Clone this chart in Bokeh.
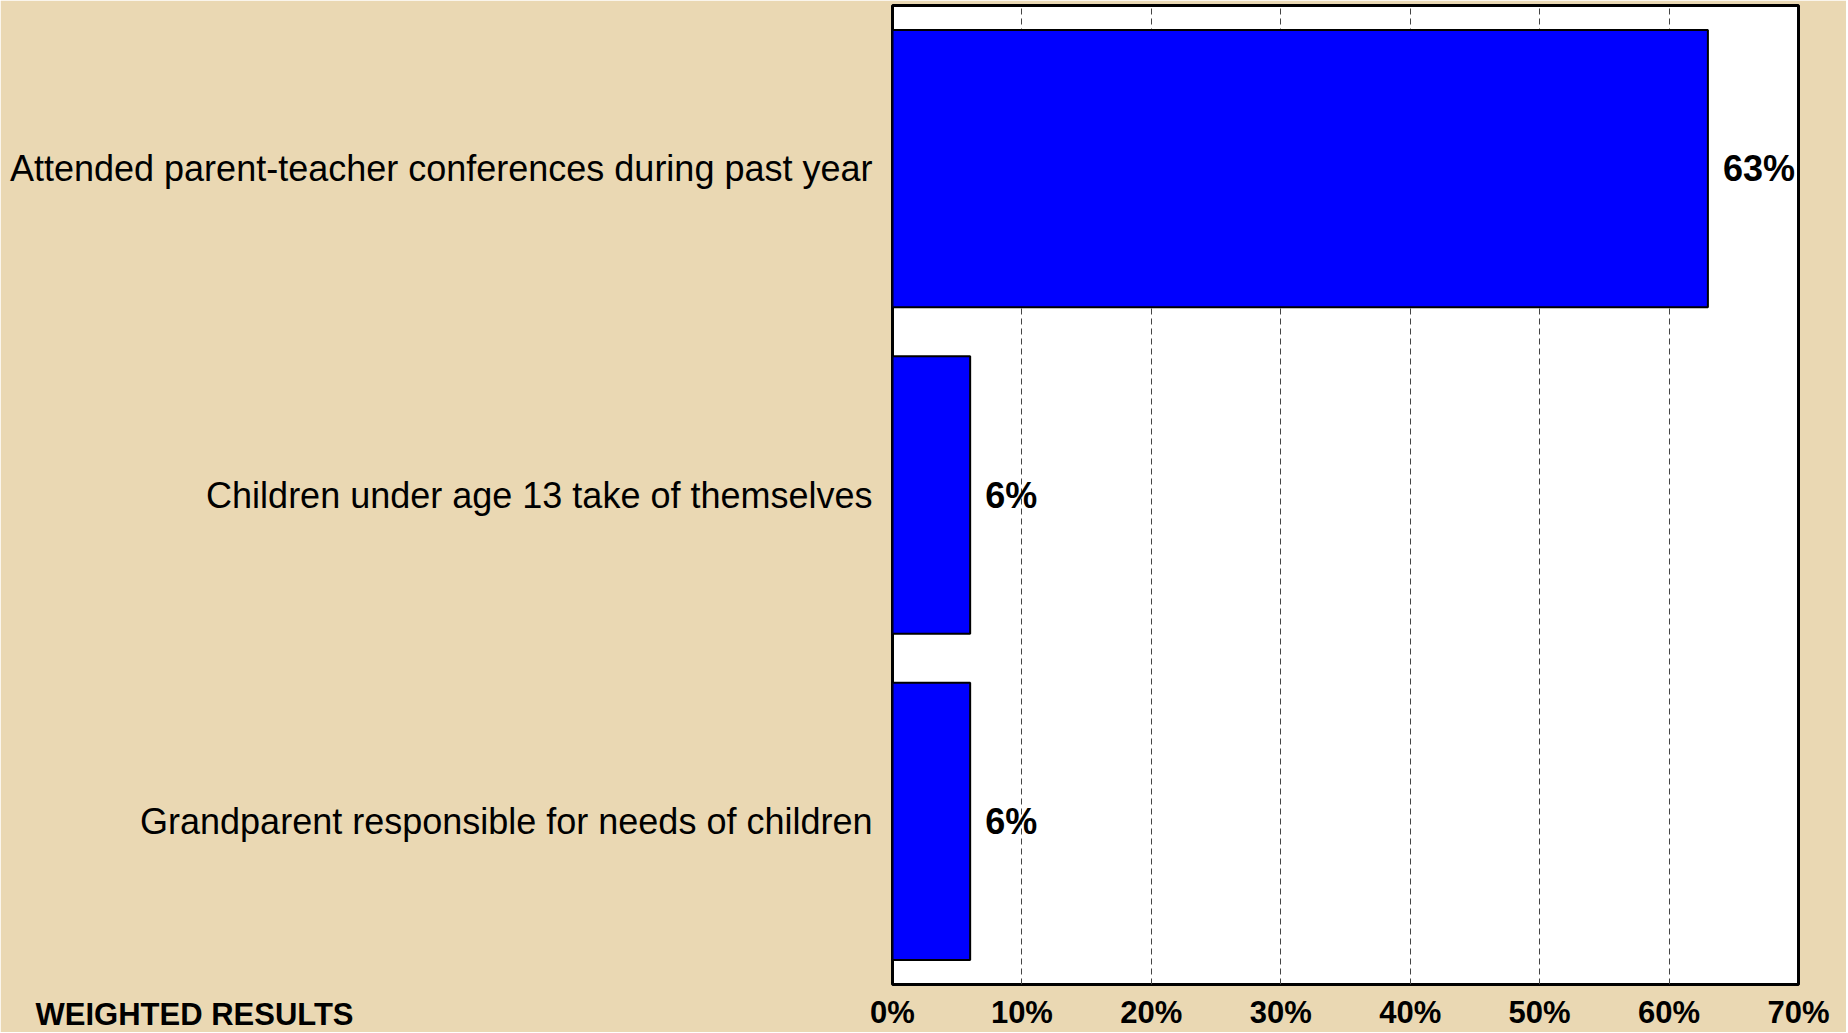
from bokeh.plotting import figure
from bokeh.models import FixedTicker, Title, ColumnDataSource
from bokeh.core.properties import value
from bokeh.embed import file_html
from bokeh.resources import INLINE

categories = [
    "Attended parent-teacher conferences during past year",
    "Children under age 13 take of themselves",
    "Grandparent responsible for needs of children",
]
percents = [63, 6, 6]
tick_values = [0, 10, 20, 30, 40, 50, 60, 70]
tick_labels = ["0%", "10%", "20%", "30%", "40%", "50%", "60%", "70%"]
value_labels = [f"{v}%" for v in percents]
footer_text = "WEIGHTED RESULTS"

BG = "#EAD8B3"
FONT = "Liberation Sans"

src = ColumnDataSource(dict(cat=categories, pct=percents, lab=value_labels))

p = figure(
    width=1846, height=1032,
    y_range=list(reversed(categories)),
    x_range=(0, 70),
    output_backend="svg", toolbar_location=None,
    min_border_left=892, min_border_right=48,
    min_border_top=5, min_border_bottom=48,
)
p.border_fill_color = BG
p.background_fill_color = "white"
p.outline_line_color = "black"
p.outline_line_width = 3

p.hbar(y="cat", right="pct", left=0, height=0.85, source=src,
       fill_color="#0000FF", line_color="black", line_width=2)

p.text(x="pct", y="cat", text="lab", source=src, x_offset=15,
       text_baseline="middle", text_align="left",
       text_font=value(FONT), text_font_style="bold",
       text_font_size="36px", text_color="black")

# grid
p.ygrid.grid_line_color = None
p.xgrid.grid_line_color = "#444444"
p.xgrid.grid_line_dash = "6 4"
p.xgrid.grid_line_width = 1
p.xgrid.ticker = FixedTicker(ticks=tick_values)

# x axis
p.xaxis.ticker = FixedTicker(ticks=tick_values)
p.xaxis.major_label_overrides = {v: l for v, l in zip(tick_values, tick_labels)}
p.xaxis.major_label_text_font = FONT
p.xaxis.major_label_text_font_style = "bold"
p.xaxis.major_label_text_font_size = "31px"
p.xaxis.major_label_text_color = "black"
p.xaxis.major_label_standoff = 10
p.xaxis.axis_line_color = None
p.xaxis.major_tick_line_color = None
p.xaxis.minor_tick_line_color = None
p.xaxis.major_tick_out = 0
p.xaxis.major_tick_in = 0
p.xaxis.minor_tick_out = 0
p.xaxis.minor_tick_in = 0

# y axis
p.yaxis.major_label_text_font = FONT
p.yaxis.major_label_text_font_style = "normal"
p.yaxis.major_label_text_font_size = "36px"
p.yaxis.major_label_text_color = "black"
p.yaxis.major_label_standoff = 20
p.yaxis.axis_line_color = None
p.yaxis.major_tick_line_color = None
p.yaxis.minor_tick_line_color = None
p.yaxis.major_tick_out = 0
p.yaxis.major_tick_in = 0

footer = Title(text=footer_text, align="left", vertical_align="top",
               offset=-857, standoff=-71,
               text_font=FONT, text_font_style="bold",
               text_font_size="31px", text_color="black")
p.add_layout(footer, "below")

open("out.html", "w").write(file_html(p, INLINE))
